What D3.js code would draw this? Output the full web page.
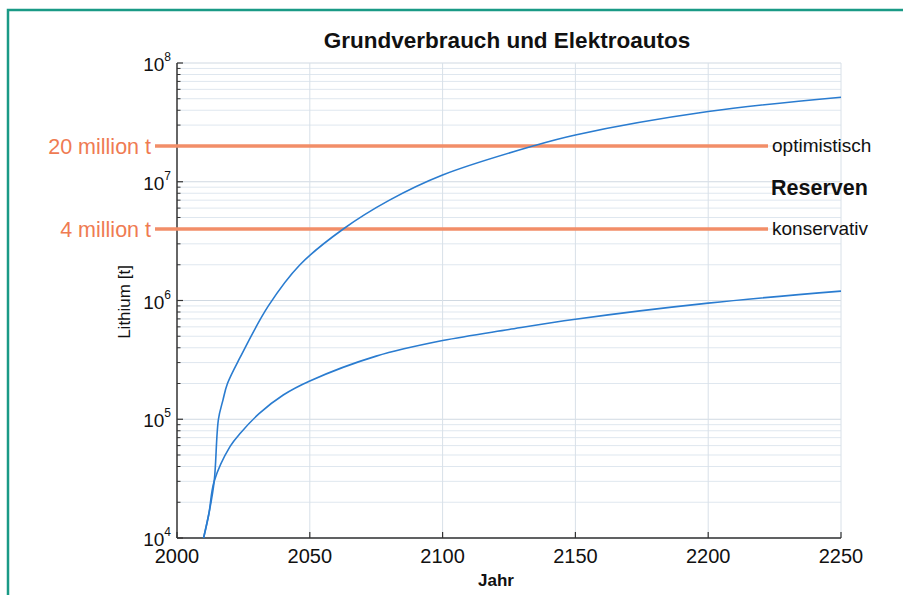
<!DOCTYPE html>
<html>
<head>
<meta charset="utf-8">
<script src="https://cdn.jsdelivr.net/npm/d3@7"></script>
<style>
  body { margin: 0; background: #fff; }
  svg { font-family: "Liberation Sans", Arial, sans-serif; }
</style>
</head>
<body>
<svg id="chart" width="903" height="595"></svg>
<script>
// values
var autoYears = [2010, 2012, 2014, 2015.6, 2017.3, 2019, 2023.7, 2034.4, 2046.3, 2062.6, 2080, 2100, 2134, 2150, 2200, 2250];
var autoValues = [1e4, 1.6e4, 3.0e4, 1.0e5, 1.45e5, 2.0e5, 3.3e5, 9.0e5, 2.0e6, 4.0e6, 7.0e6, 1.14e7, 2.0e7, 2.48e7, 3.9e7, 5.15e7];
var baseYears = [2010, 2012, 2014, 2020, 2024, 2031, 2040, 2050, 2075, 2100, 2125, 2150, 2200, 2250];
var baseValues = [1e4, 1.6e4, 3.0e4, 5.9e4, 7.7e4, 1.12e5, 1.6e5, 2.1e5, 3.4e5, 4.6e5, 5.7e5, 6.95e5, 9.5e5, 1.2e6];
var reserveValues = [2e7, 4e6];
var reserveLabels = ["20 million t", "4 million t"];
var reserveNames = ["optimistisch", "konservativ"];
var xTicks = [2000, 2050, 2100, 2150, 2200, 2250];
var yDecades = [4, 5, 6, 7, 8];

var svg = d3.select("#chart");
var plotL = 177, plotR = 841, plotT = 63, plotB = 538;

var x = d3.scaleLinear().domain([2000, 2250]).range([plotL, plotR]);
var y = d3.scaleLog().domain([1e4, 1e8]).range([plotB, plotT]);

// green frame, open to the right and bottom
svg.append("path")
  .attr("d", "M8,600 L8,10 L910,10")
  .attr("fill", "none")
  .attr("stroke", "#1a9a86")
  .attr("stroke-width", 2.5);

// minor ticks 2..9 per decade
var minor = [];
yDecades.slice(0, 4).forEach(function (d) {
  for (var k = 2; k <= 9; k++) minor.push(k * Math.pow(10, d));
});
var major = yDecades.map(function (d) { return Math.pow(10, d); });

// grid
svg.selectAll(".ygrid").data(minor.concat(major)).enter().append("line")
  .attr("x1", plotL).attr("x2", plotR)
  .attr("y1", function (d) { return y(d); })
  .attr("y2", function (d) { return y(d); })
  .attr("stroke", function (d) { return major.indexOf(d) >= 0 ? "#d0d9e2" : "#dfe7ef"; })
  .attr("stroke-width", 1);
svg.selectAll(".xgrid").data(xTicks.slice(1)).enter().append("line")
  .attr("x1", function (d) { return x(d); })
  .attr("x2", function (d) { return x(d); })
  .attr("y1", plotT).attr("y2", plotB)
  .attr("stroke", "#d8e0e8")
  .attr("stroke-width", 1);

// axes
var yAxis = svg.append("g").attr("transform", "translate(" + plotL + ",0)");
yAxis.append("line").attr("x1", 0).attr("x2", 0).attr("y1", plotT).attr("y2", plotB)
  .attr("stroke", "#333").attr("stroke-width", 1.5);
yAxis.selectAll(".maj").data(major).enter().append("line")
  .attr("x1", 0).attr("x2", 6)
  .attr("y1", function (d) { return y(d); }).attr("y2", function (d) { return y(d); })
  .attr("stroke", "#333").attr("stroke-width", 1.2);
yAxis.selectAll(".min").data(minor).enter().append("line")
  .attr("x1", 0).attr("x2", 3.5)
  .attr("y1", function (d) { return y(d); }).attr("y2", function (d) { return y(d); })
  .attr("stroke", "#333").attr("stroke-width", 1);
var ylab = yAxis.selectAll(".ylab").data(yDecades).enter().append("text")
  .attr("x", -6)
  .attr("y", function (d) { return y(Math.pow(10, d)) + 8; })
  .attr("text-anchor", "end")
  .attr("font-size", 19)
  .attr("fill", "#111");
ylab.append("tspan").text("10");
ylab.append("tspan").text(function (d) { return d; })
  .attr("font-size", 12).attr("dy", -10);

var xAxis = svg.append("g");
xAxis.append("line").attr("x1", plotL).attr("x2", plotR).attr("y1", plotB).attr("y2", plotB)
  .attr("stroke", "#333").attr("stroke-width", 1.5);
xAxis.selectAll(".xt").data(xTicks).enter().append("line")
  .attr("x1", function (d) { return x(d); }).attr("x2", function (d) { return x(d); })
  .attr("y1", plotB).attr("y2", plotB - 6)
  .attr("stroke", "#333").attr("stroke-width", 1.2);
xAxis.selectAll(".xl").data(xTicks).enter().append("text")
  .attr("x", function (d) { return x(d); })
  .attr("y", 563)
  .attr("text-anchor", "middle")
  .attr("font-size", 20)
  .attr("fill", "#111")
  .text(function (d) { return d; });

// reserve lines
svg.selectAll(".res").data(reserveValues).enter().append("line")
  .attr("x1", 155).attr("x2", 768)
  .attr("y1", function (d) { return y(d); }).attr("y2", function (d) { return y(d); })
  .attr("stroke", "#f28e68")
  .attr("stroke-width", 3.5);
svg.selectAll(".resl").data(reserveValues).enter().append("text")
  .attr("x", 151)
  .attr("y", function (d) { return y(d) + 8; })
  .attr("text-anchor", "end")
  .attr("font-size", 21.5)
  .attr("fill", "#ef7b52")
  .text(function (d, i) { return reserveLabels[i]; });
svg.selectAll(".resn").data(reserveValues).enter().append("text")
  .attr("x", 772)
  .attr("y", function (d) { return y(d) + 6; })
  .attr("font-size", 19)
  .attr("fill", "#111")
  .text(function (d, i) { return reserveNames[i]; });
svg.append("text")
  .attr("x", 771)
  .attr("y", y(Math.sqrt(reserveValues[0] * reserveValues[1])) + 7)
  .attr("font-size", 21.5)
  .attr("font-weight", "bold")
  .attr("fill", "#111")
  .text("Reserven");

// curves
var line = d3.line().curve(d3.curveCatmullRom.alpha(0.5))
  .x(function (d) { return x(d[0]); })
  .y(function (d) { return y(d[1]); });
[[autoYears, autoValues], [baseYears, baseValues]].forEach(function (s) {
  svg.append("path")
    .datum(d3.zip(s[0], s[1]))
    .attr("d", line)
    .attr("fill", "none")
    .attr("stroke", "#2a7cd0")
    .attr("stroke-width", 1.6);
});

// titles
svg.append("text")
  .attr("x", (plotL + plotR) / 2 - 2)
  .attr("y", 48)
  .attr("text-anchor", "middle")
  .attr("font-size", 22.5)
  .attr("font-weight", "bold")
  .attr("fill", "#111")
  .text("Grundverbrauch und Elektroautos");
svg.append("text")
  .attr("x", (plotL + plotR) / 2 - 13)
  .attr("y", 586)
  .attr("text-anchor", "middle")
  .attr("font-size", 17)
  .attr("font-weight", "bold")
  .attr("fill", "#111")
  .text("Jahr");
svg.append("text")
  .attr("transform", "translate(130,302) rotate(-90)")
  .attr("text-anchor", "middle")
  .attr("font-size", 17)
  .attr("fill", "#111")
  .text("Lithium [t]");
</script>
</body>
</html>
